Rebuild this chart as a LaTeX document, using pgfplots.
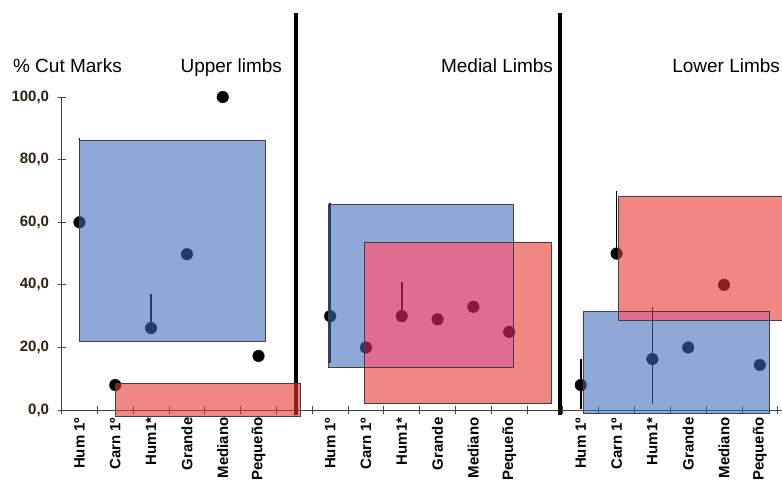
\documentclass[border=0pt]{standalone}
\usepackage{fontspec}
\setmainfont{Liberation Sans}
\usepackage{pgfplots}
\pgfplotsset{compat=1.18}
\definecolor{bluebox}{RGB}{62,105,186}
\definecolor{redbox}{RGB}{230,55,47}
\definecolor{ovlbox}{RGB}{209,37,90}
\definecolor{ticklab}{RGB}{50,32,14}
\begin{document}
\begin{tikzpicture}
\begin{axis}[
  set layers,
  scale only axis, width=720.3pt, height=313pt,
  xmin=-0.5, xmax=19.62, ymin=0, ymax=100,
  axis lines=left,
  axis line style={-, black!75, line width=0.8pt},
  clip=false,
  tick align=center,
  tick style={black!75, line width=0.8pt},
  major tick length=0pt,
  minor tick length=8pt,
  xtick={0,1,2,3,4,5,7,8,9,10,11,12,14,15,16,17,18,19},
  xticklabels={Hum 1º,Carn 1º,Hum1*,Grande,Mediano,Pequeño,Hum 1º,Carn 1º,Hum1*,Grande,Mediano,Pequeño,Hum 1º,Carn 1º,Hum1*,Grande,Mediano,Pequeño},
  minor xtick={-0.5,0.5,...,19.5},
  x tick label style={rotate=90, anchor=east, font=\bfseries\fontsize{15}{15}\selectfont, xshift=-4pt},
  ytick={0,20,40,60,80,100},
  minor ytick={0,20,40,60,80,100},
  yticklabels={{0,0},{20,0},{40,0},{60,0},{80,0},{100,0}},
  y tick label style={font=\bfseries\fontsize{15}{15}\selectfont, text=ticklab, xshift=-9pt},
]
% error bars
\addplot[black, line width=1.6pt, mark=none] coordinates {(0,25) (0,87)};
\addplot[black, line width=1.6pt, mark=none] coordinates {(2,26) (2,37)};
\addplot[black, line width=1.6pt, mark=none] coordinates {(7,15) (7,66)};
\addplot[black, line width=1.6pt, mark=none] coordinates {(9,30) (9,41)};
\addplot[black, line width=1.6pt, mark=none] coordinates {(14,0.3) (14,16.3)};
\addplot[black, line width=1.6pt, mark=none] coordinates {(15,50) (15,70)};
\addplot[black, line width=1.6pt, mark=none] coordinates {(16,2) (16,33)};
% separators
\addplot[black, line width=3.5pt, mark=none] coordinates {(6.05,-1.5) (6.05,126.8)};
\addplot[black, line width=3.5pt, mark=none] coordinates {(13.42,-1.5) (13.42,126.8)};
% dots
\addplot[only marks, mark=*, mark size=5.8pt, mark options={draw=none, fill=black}] coordinates {
 (0,60) (1,8) (2,26.2) (3,49.8) (4,100) (5,17.3)
 (7,30) (8,20) (9,30) (10,29) (11,33) (12,25)
 (14,8) (15,50) (16,16.3) (17,20) (18,40) (19,14.4)};
% panel 1 boxes
\addplot[on layer=axis foreground, draw=none, fill=bluebox, fill opacity=0.58, mark=none] coordinates {(0,22.1) (5.18,22.1) (5.18,86.3) (0,86.3)} -- cycle;
\addplot[on layer=axis foreground, draw=none, fill=redbox, fill opacity=0.6, mark=none] coordinates {(0.99,-2.1) (6.16,-2.1) (6.16,8.5) (0.99,8.5)} -- cycle;
% panel 2 boxes (blue minus overlap, red minus overlap, overlap)
\addplot[on layer=axis foreground, draw=none, fill=bluebox, fill opacity=0.58, mark=none] coordinates {(6.95,13.7) (7.95,13.7) (7.95,53.7) (12.11,53.7) (12.11,65.8) (6.95,65.8)} -- cycle;
\addplot[on layer=axis foreground, draw=none, fill=redbox, fill opacity=0.6, mark=none] coordinates {(7.95,2) (13.17,2) (13.17,53.7) (12.11,53.7) (12.11,13.7) (7.95,13.7)} -- cycle;
\addplot[on layer=axis foreground, draw=none, fill=ovlbox, fill opacity=0.67, mark=none] coordinates {(7.95,13.7) (12.11,13.7) (12.11,53.7) (7.95,53.7)} -- cycle;
% panel 3 boxes
\addplot[on layer=axis foreground, draw=none, fill=bluebox, fill opacity=0.58, mark=none] coordinates {(14.06,-1) (19.26,-1) (19.26,28.7) (15.04,28.7) (15.04,31.6) (14.06,31.6)} -- cycle;
\addplot[on layer=axis foreground, draw=none, fill=redbox, fill opacity=0.6, mark=none] coordinates {(15.04,31.6) (19.26,31.6) (19.26,28.7) (19.9,28.7) (19.9,68.4) (15.04,68.4)} -- cycle;
\addplot[on layer=axis foreground, draw=none, fill=ovlbox, fill opacity=0.67, mark=none] coordinates {(15.04,28.7) (19.26,28.7) (19.26,31.6) (15.04,31.6)} -- cycle;
% outlines
\addplot[on layer=axis foreground, draw=black!75, line width=0.8pt, mark=none] coordinates {(0,22.1) (5.18,22.1) (5.18,86.3) (0,86.3)} -- cycle;
\addplot[on layer=axis foreground, draw=black!75, line width=0.8pt, mark=none] coordinates {(0.99,-2.1) (6.16,-2.1) (6.16,8.5) (0.99,8.5)} -- cycle;
\addplot[on layer=axis foreground, draw=black!75, line width=0.8pt, mark=none] coordinates {(6.95,13.7) (12.11,13.7) (12.11,65.8) (6.95,65.8)} -- cycle;
\addplot[on layer=axis foreground, draw=black!75, line width=0.8pt, mark=none] coordinates {(7.95,2) (13.17,2) (13.17,53.7) (7.95,53.7)} -- cycle;
\addplot[on layer=axis foreground, draw=black!75, line width=0.8pt, mark=none] coordinates {(14.06,-1) (19.26,-1) (19.26,31.6) (14.06,31.6)} -- cycle;
\addplot[on layer=axis foreground, draw=black!75, line width=0.8pt, mark=none] coordinates {(19.9,28.7) (15.04,28.7) (15.04,68.4) (19.9,68.4)};
% titles
\node[anchor=base west, font=\fontsize{19}{19}\selectfont, inner sep=0pt] at (axis cs:-1.86,107.7) {\% Cut Marks};
\node[anchor=base east, font=\fontsize{19}{19}\selectfont, inner sep=0pt] at (axis cs:5.66,107.7) {Upper limbs};
\node[anchor=base east, font=\fontsize{19}{19}\selectfont, inner sep=0pt] at (axis cs:13.23,107.7) {Medial Limbs};
\node[anchor=base east, font=\fontsize{19}{19}\selectfont, inner sep=0pt] at (axis cs:19.57,107.7) {Lower Limbs};
\coordinate (BL) at (axis cs:-2.22,-25.24);
\coordinate (TR) at (axis cs:19.62,131);
\end{axis}
\pgfresetboundingbox
\path[use as bounding box] (BL) rectangle (TR);
\end{tikzpicture}
\end{document}
